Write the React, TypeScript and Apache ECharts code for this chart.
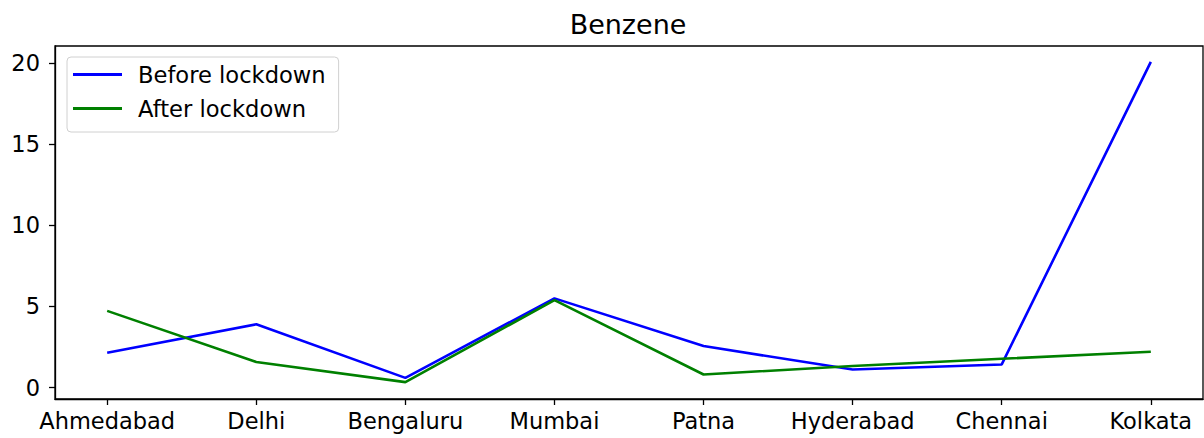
import React, { useEffect, useRef } from "react";
import * as echarts from "echarts";

const cities = ["Ahmedabad", "Delhi", "Bengaluru", "Mumbai", "Patna", "Hyderabad", "Chennai", "Kolkata"];
const beforeLockdown = [2.15, 3.9, 0.6, 5.5, 2.56, 1.12, 1.43, 20.07];
const afterLockdown = [4.73, 1.58, 0.34, 5.39, 0.81, 1.33, 1.78, 2.21];
const yTicks = [0, 5, 10, 15, 20];
const chartTitle = "Benzene";
const seriesNames = ["Before lockdown", "After lockdown"];

const FONT = "DejaVu Sans";

export default function App() {
  const ref = useRef<HTMLDivElement>(null);
  useEffect(() => {
    if (!ref.current) return;
    const chart = echarts.init(ref.current, undefined, { renderer: "svg" });
    const xIdx = cities.map((_, i) => i);
    chart.setOption({
      animation: false,
      backgroundColor: "#fff",
      title: {
        text: chartTitle,
        left: 623,
        top: 6,
        textAlign: "center",
        textStyle: { fontFamily: FONT, fontSize: 27, fontWeight: "normal", color: "#000" },
      },
      legend: {
        orient: "vertical",
        left: 67,
        top: 57,
        padding: [6, 13, 12, 6],
        itemGap: 11,
        itemWidth: 49,
        itemHeight: 3,
        icon: "rect",
        borderColor: "#d0d0d0",
        borderWidth: 1,
        borderRadius: 4,
        backgroundColor: "rgba(255,255,255,0.8)",
        textStyle: { fontFamily: FONT, fontSize: 22.6, color: "#000", lineHeight: 22, padding: [0, 0, 0, 11] },
        data: seriesNames,
      },
      grid: {
        left: 55,
        right: 1,
        top: 46,
        bottom: 39,
        show: true,
        borderColor: "#000",
        borderWidth: 1.3,
        backgroundColor: "transparent",
      },
      xAxis: {
        type: "value",
        min: -0.35,
        max: 7.35,
        axisLine: { show: true, onZero: false, lineStyle: { color: "#000", width: 1.3 } },
        axisTick: { show: true, length: 6, customValues: xIdx, lineStyle: { color: "#000", width: 1.3 } },
        axisLabel: {
          customValues: xIdx,
          margin: 10,
          fontFamily: FONT,
          fontSize: 22.5,
          color: "#000",
          formatter: (v: number) => cities[Math.round(v)] ?? "",
        },
        splitLine: { show: false },
      },
      yAxis: {
        type: "value",
        min: -0.7,
        max: 21.05,
        axisLine: { show: true, onZero: false, lineStyle: { color: "#000", width: 1.3 } },
        axisTick: { show: true, length: 6, customValues: yTicks, lineStyle: { color: "#000", width: 1.3 } },
        axisLabel: {
          customValues: yTicks,
          margin: 15,
          fontFamily: FONT,
          fontSize: 22.5,
          color: "#000",
        },
        splitLine: { show: false },
      },
      series: [
        {
          name: seriesNames[0],
          type: "line",
          symbol: "none",
          data: beforeLockdown.map((v, i) => [i, v]),
          lineStyle: { color: "#0000ff", width: 2.6 },
          itemStyle: { color: "#0000ff" },
        },
        {
          name: seriesNames[1],
          type: "line",
          symbol: "none",
          data: afterLockdown.map((v, i) => [i, v]),
          lineStyle: { color: "#008000", width: 2.6 },
          itemStyle: { color: "#008000" },
        },
      ],
    });
    return () => chart.dispose();
  }, []);
  return (
    <div
      ref={ref}
      style={{ position: "fixed", left: 0, top: 0, width: 1204, height: 438 }}
    />
  );
}
